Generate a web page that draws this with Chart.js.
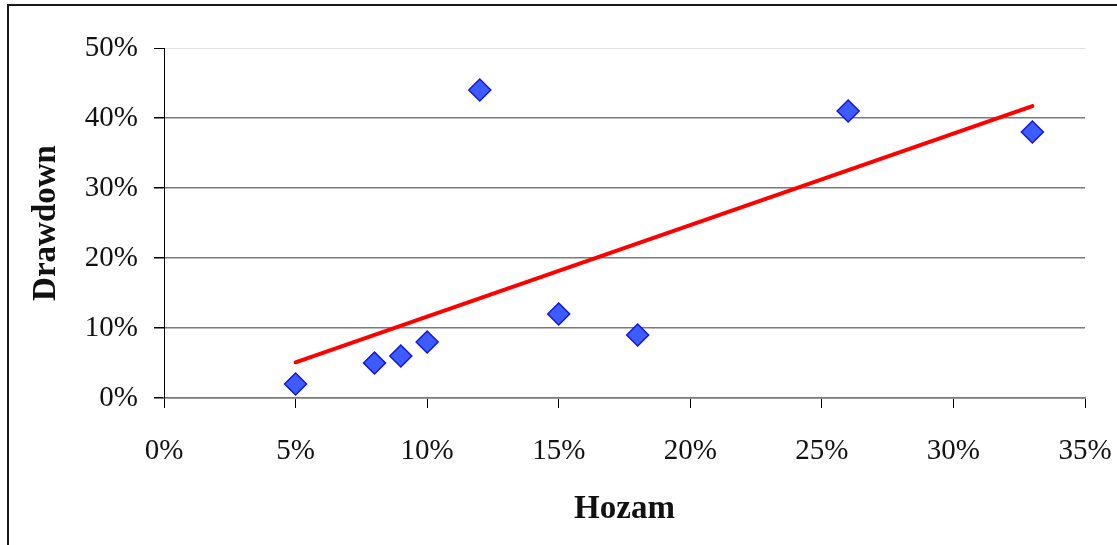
<!DOCTYPE html>
<html>
<head>
<meta charset="utf-8">
<script src="https://cdn.jsdelivr.net/npm/chart.js@4"></script>
<style>
  html, body { margin: 0; padding: 0; background: #fff; }
  #wrap { position: relative; width: 1117px; height: 545px; }
</style>
</head>
<body>
<div id="wrap"><canvas id="c"></canvas></div>
<script>
// Data (percent units)
const hozam    = [5, 8, 9, 10, 12, 15, 18, 26, 33];
const drawdown = [2, 5, 6, 8, 44, 12, 9, 41, 38];
const trendX   = [5, 33];
const trendY   = [5.1, 41.7];
const xTicks   = [0, 5, 10, 15, 20, 25, 30, 35];
const yTicks   = [0, 10, 20, 30, 40, 50];
const xTitle   = 'Hozam';
const yTitle   = 'Drawdown';

const points = hozam.map((x, i) => ({ x: x, y: drawdown[i] }));
const trend  = trendX.map((x, i) => ({ x: x, y: trendY[i] }));

const frame = {
  id: 'frame',
  beforeDraw(chart) {
    const ctx = chart.ctx;
    ctx.save();
    ctx.strokeStyle = '#1a1a1a';
    ctx.lineWidth = 2;
    ctx.beginPath();
    ctx.moveTo(8, 546);
    ctx.lineTo(8, 5);
    ctx.lineTo(1118, 5);
    ctx.stroke();
    ctx.restore();
  }
};

const tickFont  = { family: '"Liberation Serif", "Times New Roman", serif', size: 29 };
const titleFont = { family: '"Liberation Serif", "Times New Roman", serif', size: 33, weight: 'bold' };

new Chart(document.getElementById('c'), {
  type: 'scatter',
  data: {
    datasets: [
      {
        label: 'Trend',
        data: trend,
        showLine: true,
        borderColor: '#ff0000',
        backgroundColor: '#ff0000',
        borderWidth: 4,
        borderCapStyle: 'round',
        pointRadius: 0,
        order: 0
      },
      {
        label: 'Drawdown',
        data: points,
        pointStyle: 'rectRot',
        pointRadius: 11,
        backgroundColor: '#3d5cff',
        borderColor: '#1414e6',
        borderWidth: 1.5,
        showLine: false,
        order: 1
      }
    ]
  },
  options: {
    responsive: true,
    maintainAspectRatio: false,
    animation: false,
    layout: { padding: { left: 0, top: 48, right: 32, bottom: 0 } },
    plugins: { legend: { display: false }, tooltip: { enabled: false } },
    scales: {
      x: {
        type: 'linear',
        min: xTicks[0],
        max: xTicks[xTicks.length - 1],
        afterBuildTicks: (s) => { s.ticks = xTicks.map(v => ({ value: v })); },
        afterFit: (s) => { s.height = 147; s.paddingLeft = 0; s.paddingRight = 0; },
        grid: { drawOnChartArea: false, drawTicks: true, tickLength: 10, tickColor: '#000', tickWidth: 1 },
        border: { display: true, color: '#7a7a7a', width: 1.5 },
        ticks: { font: tickFont, color: '#111', padding: 26, maxRotation: 0, callback: v => v + '%' },
        title: { display: true, text: xTitle, font: titleFont, color: '#111', padding: { top: 0, bottom: 16 } }
      },
      y: {
        type: 'linear',
        min: yTicks[0],
        max: yTicks[yTicks.length - 1],
        afterBuildTicks: (s) => { s.ticks = yTicks.map(v => ({ value: v })); },
        afterFit: (s) => { s.width = 164; s.paddingTop = 0; s.paddingBottom = 0; },
        grid: {
          drawOnChartArea: true,
          drawTicks: true,
          tickLength: 10,
          tickColor: '#000',
          color: (c) => (c.tick && c.tick.value === 50) ? '#e0e0e0' : '#7a7a7a',
          lineWidth: (c) => (c.tick && c.tick.value === 50) ? 1 : 1.5
        },
        border: { display: true, color: '#000', width: 1 },
        ticks: { font: tickFont, color: '#111', padding: 16, callback: v => v + '%' },
        title: { display: true, text: yTitle, font: titleFont, color: '#111', padding: { top: 27, bottom: 0 } }
      }
    }
  },
  plugins: [frame]
});
</script>
</body>
</html>
